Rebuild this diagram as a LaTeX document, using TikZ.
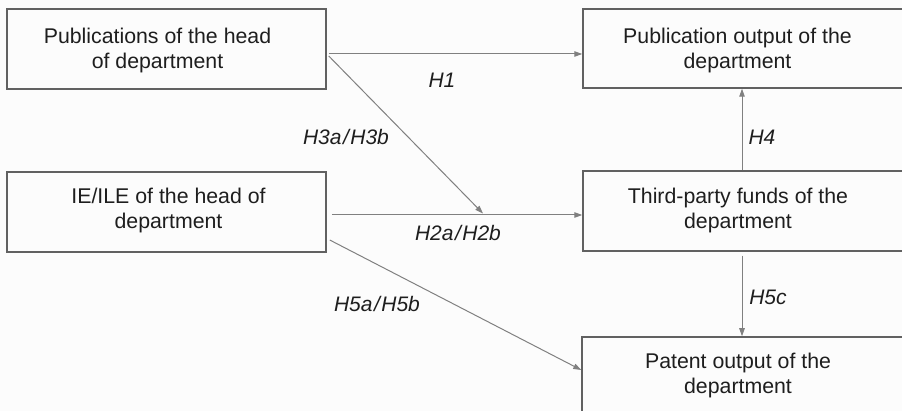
\documentclass[tikz,border=0pt]{standalone}
\usepackage{fontspec}
\setmainfont{Liberation Sans}
\usetikzlibrary{arrows.meta}
\definecolor{boxline}{gray}{0.38}
\definecolor{conn}{gray}{0.5}
\definecolor{txt}{HTML}{1E1E1E}
\definecolor{bg}{HTML}{FCFCFC}
\newcommand{\slashsep}{\kern1.5pt/\kern1.5pt}
\tikzset{
  box/.style={draw=boxline, line width=1.5pt, rectangle, inner sep=0pt},
  boxtext/.style={align=center, text=txt, font=\fontsize{21.3}{25}\selectfont, inner sep=0pt},
  hlabel/.style={text=txt, font=\fontsize{21}{25}\selectfont\itshape, inner sep=0pt},
  arr/.style={draw=conn, line width=1pt, -{Triangle[length=8pt,width=5.5pt]}, color=conn}
}
\begin{document}
\begin{tikzpicture}[x=1pt,y=-1pt]
\fill[bg] (0,0) rectangle (902,411);
\useasboundingbox (0,0) rectangle (902,411);
\clip (0,0) rectangle (902,411);
% boxes
\node[box, minimum width=319pt, minimum height=80pt] (A) at (166.5,49) {};
\node[box, minimum width=319pt, minimum height=80pt] (B) at (166.5,212) {};
\node[box, minimum width=327pt, minimum height=79pt] (C) at (746.5,48.5) {};
\node[box, minimum width=327pt, minimum height=80pt] (D) at (746.5,211) {};
\node[box, minimum width=328pt, minimum height=80pt] (E) at (746,377) {};
% box texts
\node[boxtext] (At) at (157.5,50.5) {Publications of the head\\of department};
\node[boxtext] (Bt) at (168.5,210.5) {IE/ILE of the head of\\department};
\node[boxtext] (Ct) at (737.5,50) {Publication output of the\\department};
\node[boxtext] (Dt) at (738,210.5) {Third-party funds of the\\department};
\node[boxtext] (Et) at (738,375.5) {Patent output of the\\department};
% meeting point of the moderation arrow
\coordinate (m) at (483,213.5);
% connectors
\draw[arr] ([shift={(2,5)}]A.east) -- ([shift={(0,5.5)}]C.west);
\draw[arr] ([shift={(2,7)}]A.east) -- (m);
\draw[arr] ([shift={(5,3)}]B.east) -- ([shift={(0,4)}]D.west);
\draw[arr] ([shift={(3,28)}]B.east) -- ([shift={(0,-7)}]E.west);
\draw[arr] ([xshift=-4.5pt]D.north) -- ([xshift=-4.5pt]C.south);
\draw[arr] ([shift={(-4.5,4)}]D.south) -- ([xshift=-4pt]E.north);
% labels
\node[hlabel] (h1) at (442,80) {H1};
\node[hlabel] (h3) at (346,137) {H3a\slashsep H3b};
\node[hlabel] (h4) at (762,137) {H4};
\node[hlabel] (h2) at (458,233) {H2a\slashsep H2b};
\node[hlabel] (h5ab) at (377,304) {H5a\slashsep H5b};
\node[hlabel] (h5c) at (768,297) {H5c};
\end{tikzpicture}
\end{document}
